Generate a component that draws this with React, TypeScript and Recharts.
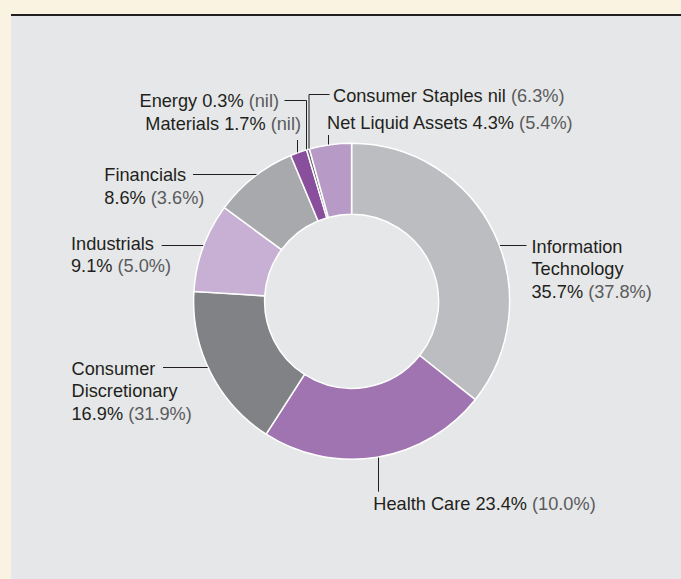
import React from 'react';
import { PieChart, Pie, Cell } from 'recharts';

// ---- data ----
const sectors = [
  'Information Technology',
  'Health Care',
  'Consumer Discretionary',
  'Industrials',
  'Financials',
  'Materials',
  'Energy',
  'Consumer Staples',
  'Net Liquid Assets',
];
const currentWeights = [35.7, 23.4, 16.9, 9.1, 8.6, 1.7, 0.3, 0, 4.3];
const previousWeights = [37.8, 10.0, 31.9, 5.0, 3.6, 0, 0, 6.3, 5.4];

// ---- presentation ----
const sliceColors = ['#bcbdc0', '#a074b0', '#808285', '#c8b0d5', '#a7a9ac', '#8a4f9c', '#6d6e71', '#a7a9ac', '#b79ac6'];
const nameLines = [
  ['Information', 'Technology'],
  ['Health Care'],
  ['Consumer', 'Discretionary'],
  ['Industrials'],
  ['Financials'],
  ['Materials'],
  ['Energy'],
  ['Consumer Staples'],
  ['Net Liquid Assets'],
];
const valueInline = [false, true, false, false, false, true, true, true, true];

type Layout = { tx: number; ty: number; anchor: 'start' | 'end'; path: 'h' | 'v' | 'hv'; x1: number; y1: number; x2?: number };
const labelLayout: Layout[] = [
  { tx: 531.5, ty: 246.5, anchor: 'start', path: 'h', x1: 526.5, y1: 245.5 },
  { tx: 373.3, ty: 503.3, anchor: 'start', path: 'v', x1: 378.5, y1: 491.7 },
  { tx: 71.5, ty: 368.3, anchor: 'start', path: 'h', x1: 163, y1: 367.5 },
  { tx: 71, ty: 243.3, anchor: 'start', path: 'h', x1: 161.7, y1: 245.5 },
  { tx: 104.3, ty: 175, anchor: 'start', path: 'h', x1: 193, y1: 174.5 },
  { tx: 301, ty: 124, anchor: 'end', path: 'v', x1: 297.5, y1: 140 },
  { tx: 279, ty: 100.5, anchor: 'end', path: 'hv', x1: 284.5, y1: 100.5, x2: 306.5 },
  { tx: 333, ty: 95.5, anchor: 'start', path: 'hv', x1: 329.5, y1: 94.5, x2: 309 },
  { tx: 327, ty: 122.5, anchor: 'start', path: 'v', x1: 328.5, y1: 135 },
];

const fmt = (v: number) => (v === 0 ? 'nil' : `${v.toFixed(1)}%`);

const chartData = sectors.map((name, i) => ({ name, value: currentWeights[i], prev: previousWeights[i] }));

const FONT = '"Liberation Sans", Arial, Helvetica, sans-serif';
const FS = 18.2;
const LH = 22.4;
const DARK = '#231f20';
const GREY = '#5a5b5d';

const renderLabel = (props: any) => {
  const { cx, cy, outerRadius, index } = props;
  const L = labelLayout[index];
  if (!L) return null;
  const r = outerRadius + 0.5;
  let d = '';
  if (L.path === 'h') {
    const dy = L.y1 - cy;
    const dx = Math.sqrt(Math.max(0, r * r - dy * dy));
    const xe = L.x1 > cx ? cx + dx : cx - dx;
    d = `M${L.x1},${L.y1}L${xe},${L.y1}`;
  } else if (L.path === 'v') {
    const dx = L.x1 - cx;
    const dy = Math.sqrt(Math.max(0, r * r - dx * dx));
    const ye = L.y1 > cy ? cy + dy : cy - dy;
    d = `M${L.x1},${L.y1}L${L.x1},${ye}`;
  } else {
    const x2 = L.x2 as number;
    const dx = x2 - cx;
    const dy = Math.sqrt(Math.max(0, r * r - dx * dx));
    const ye = cy - dy;
    d = `M${L.x1},${L.y1}L${x2},${L.y1}L${x2},${ye}`;
  }
  const names = nameLines[index];
  const cur = fmt(currentWeights[index]);
  const prev = `(${fmt(previousWeights[index])})`;
  const base = L.ty + 6.4;
  const lines: React.ReactNode[] = [];
  names.forEach((n, k) => {
    const isLast = k === names.length - 1;
    if (isLast && valueInline[index]) {
      lines.push(
        <text key={k} x={L.tx} y={base + k * LH} textAnchor={L.anchor} fontFamily={FONT} fontSize={FS} fill={DARK}>
          <tspan>{`${n} ${cur} `}</tspan>
          <tspan fill={GREY}>{prev}</tspan>
        </text>
      );
    } else {
      lines.push(
        <text key={k} x={L.tx} y={base + k * LH} textAnchor={L.anchor} fontFamily={FONT} fontSize={FS} fill={DARK}>
          {n}
        </text>
      );
    }
  });
  if (!valueInline[index]) {
    const k = names.length;
    lines.push(
      <text key="v" x={L.tx} y={base + k * LH} textAnchor={L.anchor} fontFamily={FONT} fontSize={FS} fill={DARK}>
        <tspan>{`${cur} `}</tspan>
        <tspan fill={GREY}>{prev}</tspan>
      </text>
    );
  }
  return (
    <g key={`lbl-${index}`}>
      <path d={d} stroke={DARK} strokeWidth={1} fill="none" />
      {lines}
    </g>
  );
};

export default function App() {
  return (
    <div style={{ position: 'absolute', left: 0, top: 0, width: 681, height: 579, background: '#faf3e1', overflow: 'hidden' }}>
      <div
        style={{
          position: 'absolute',
          left: 11,
          top: 14,
          width: 670,
          height: 565,
          background: '#e6e7e8',
          borderTop: '2px solid #231f20',
          boxSizing: 'border-box',
        }}
      />
      <div style={{ position: 'absolute', left: 0, top: 0 }}>
        <PieChart width={681} height={579} margin={{ top: 0, right: 0, bottom: 0, left: 0 }}>
          <Pie
            data={chartData}
            dataKey="value"
            nameKey="name"
            cx={351.6}
            cy={301.3}
            innerRadius={87}
            outerRadius={158}
            startAngle={90}
            endAngle={-270}
            stroke="#ffffff"
            strokeWidth={1.5}
            label={renderLabel}
            labelLine={false}
            isAnimationActive={false}
          >
            {chartData.map((d, i) => (
              <Cell key={d.name} fill={sliceColors[i]} />
            ))}
          </Pie>
        </PieChart>
      </div>
    </div>
  );
}
